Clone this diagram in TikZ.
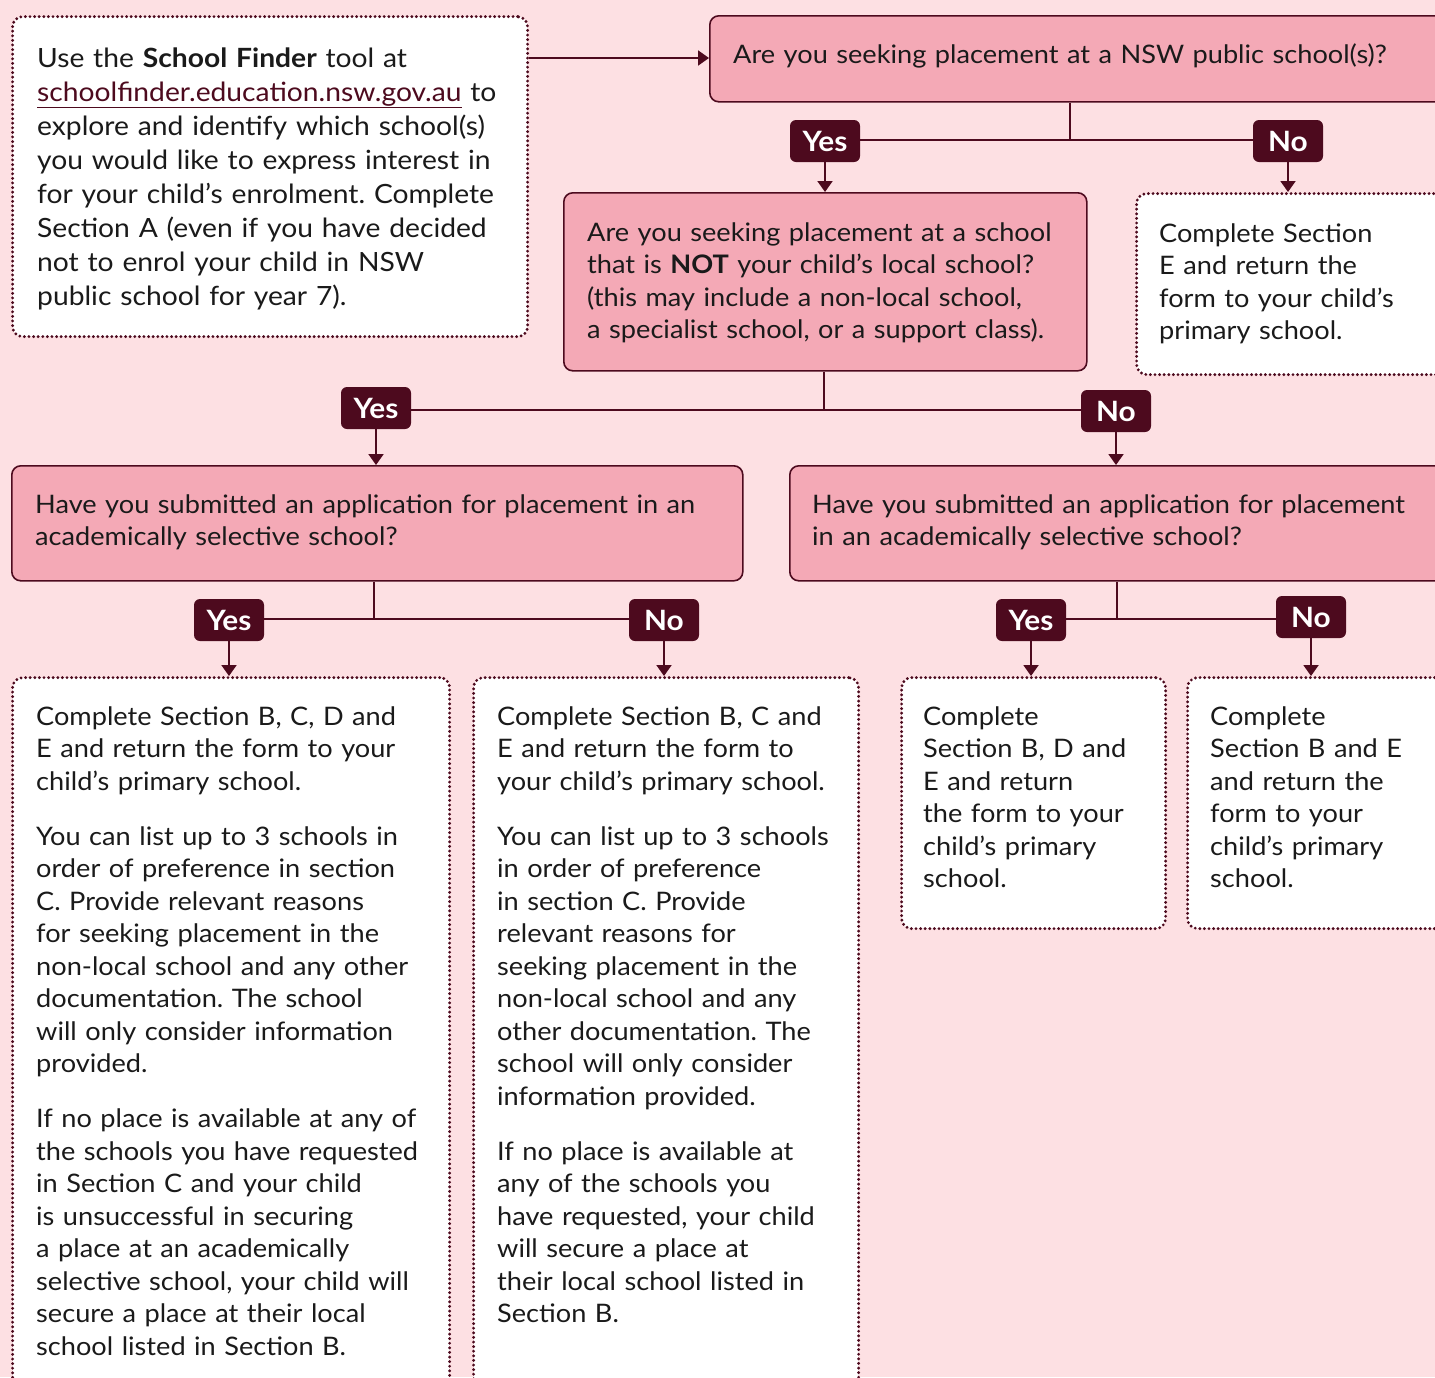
\documentclass[tikz,border=0pt]{standalone}
\usepackage{fontspec}
\setmainfont{Lato}[FakeStretch=1.065]
\usetikzlibrary{arrows.meta}
\definecolor{bg}{HTML}{FDE0E3}
\definecolor{pinkq}{HTML}{F4A9B6}
\definecolor{maroon}{HTML}{4D0A1E}
\definecolor{ink}{HTML}{1A1A1A}
\frenchspacing
\begin{document}
\begin{tikzpicture}[x=1pt,y=-1pt,
  qbox/.style={draw=maroon, line width=1.6pt, fill=pinkq, rounded corners=9pt, anchor=north west, inner sep=0pt},
  wbox/.style={draw=maroon, line width=3.2pt, fill=white, rounded corners=10pt, dash pattern=on 0pt off 4.6pt, line cap=round, anchor=north west, inner sep=0pt},
  lbl/.style={fill=maroon, text=white, rounded corners=6pt, minimum width=70pt, minimum height=42pt, inner sep=0pt, font=\fontsize{28}{30}\selectfont\bfseries},
  txt/.style={anchor=base west, inner sep=0pt, text width=#1, align=left, text=ink, font=\fontsize{25.5}{32.5}\selectfont},
  conn/.style={draw=maroon, line width=2pt},
  arr/.style={conn, -{Triangle[width=15pt,length=11pt]}}
]
\path[use as bounding box, fill=bg] (0,0) rectangle (1435,1377);
\clip (0,0) rectangle (1435,1377);

% boxes
\node[wbox, minimum width=515pt, minimum height=320pt] (intro) at (11,15) {};
\node[qbox, minimum width=760pt, minimum height=86pt] (q1) at (709,15) {};
\node[qbox, minimum width=523pt, minimum height=178pt] (q2) at (563,192) {};
\node[wbox, minimum width=330pt, minimum height=181pt] (ebox) at (1135,192) {};
\node[qbox, minimum width=731pt, minimum height=115pt] (q3l) at (11,465) {};
\node[qbox, minimum width=680pt, minimum height=115pt] (q3r) at (789,465) {};
\node[wbox, minimum width=437pt, minimum height=740pt] (b1) at (11,676) {};
\node[wbox, minimum width=385pt, minimum height=740pt] (b2) at (472,676) {};
\node[wbox, minimum width=264pt, minimum height=251pt] (b3) at (900,676) {};
\node[wbox, minimum width=280pt, minimum height=251pt] (b4) at (1186,676) {};

% texts
\node[txt=500pt, font=\fontsize{26.5}{34}\selectfont] (introtext) at (37,67) {Use the \textbf{School Finder} tool at\\
\textcolor{maroon}{\underline{schoolfinder.education.nsw.gov.au}} to\\
explore and identify which school(s)\\
you would like to express interest in\\
for your child’s enrolment. Complete\\
Section A (even if you have decided\\
not to enrol your child in NSW\\
public school for year 7).};
\node[txt=720pt] (q1text) at (733,63) {Are you seeking placement at a NSW public school(s)?};
\node[txt=500pt] (q2text) at (587,241) {Are you seeking placement at a school\\
that is \textbf{NOT} your child’s local school?\\
(this may include a non-local school,\\
a specialist school, or a support class).};
\node[txt=300pt] (etext) at (1159,242) {Complete Section\\
E and return the\\
form to your child’s\\
primary school.};
\node[txt=720pt] (q3ltext) at (35,513) {Have you submitted an application for placement in an\\
academically selective school?};
\node[txt=640pt] (q3rtext) at (812,513) {Have you submitted an application for placement\\
in an academically selective school?};
\node[txt=420pt] (b1text) at (36,725) {Complete Section B, C, D and\\
E and return the form to your\\
child’s primary school.\\[22.5pt]
You can list up to 3 schools in\\
order of preference in section\\
C. Provide relevant reasons\\
for seeking placement in the\\
non-local school and any other\\
documentation. The school\\
will only consider information\\
provided.\\[22.5pt]
If no place is available at any of\\
the schools you have requested\\
in Section C and your child\\
is unsuccessful in securing\\
a place at an academically\\
selective school, your child will\\
secure a place at their local\\
school listed in Section B.};
\node[txt=370pt] (b2text) at (497,725) {Complete Section B, C and\\
E and return the form to\\
your child’s primary school.\\[22.5pt]
You can list up to 3 schools\\
in order of preference\\
in section C. Provide\\
relevant reasons for\\
seeking placement in the\\
non-local school and any\\
other documentation. The\\
school will only consider\\
information provided.\\[22.5pt]
If no place is available at\\
any of the schools you\\
have requested, your child\\
will secure a place at\\
their local school listed in\\
Section B.};
\node[txt=240pt] (b3text) at (923,725) {Complete\\
Section B, D and\\
E and return\\
the form to your\\
child’s primary\\
school.};
\node[txt=240pt] (b4text) at (1210,725) {Complete\\
Section B and E\\
and return the\\
form to your\\
child’s primary\\
school.};

% labels
\node[lbl] (y1) at (825,141) {Yes};
\node[lbl] (n1) at (1288,141) {No};
\node[lbl] (y2) at (376,408) {Yes};
\node[lbl] (n2) at (1116,411) {No};
\node[lbl] (y3) at (229,620) {Yes};
\node[lbl] (n3) at (664,620) {No};
\node[lbl] (y4) at (1031,620) {Yes};
\node[lbl] (n4) at (1311,617) {No};

% junctions
\coordinate (j1) at (1070,140);
\coordinate (j2) at (824,410);
\coordinate (j3) at (374,619);
\coordinate (j4) at (1117,619);
\coordinate (ia) at (600,58);

% connectors
\draw[arr] (ia -| intro.east) -- (ia -| q1.west);
\draw[conn] (j1 |- q1.south) -- (j1);
\draw[conn] (y1.east |- j1) -- (n1.west |- j1);
\draw[arr] (y1.south) -- (y1 |- q2.north);
\draw[arr] (n1.south) -- (n1 |- ebox.north);
\draw[conn] (j2 |- q2.south) -- (j2);
\draw[conn] (y2.east |- j2) -- (n2.west |- j2);
\draw[arr] (y2.south) -- (y2 |- q3l.north);
\draw[arr] (n2.south) -- (n2 |- q3r.north);
\draw[conn] (j3 |- q3l.south) -- (j3);
\draw[conn] (y3.east |- j3) -- (n3.west |- j3);
\draw[arr] (y3.south) -- (y3 |- b1.north);
\draw[arr] (n3.south) -- (n3 |- b2.north);
\draw[conn] (j4 |- q3r.south) -- (j4);
\draw[conn] (y4.east |- j4) -- (n4.west |- j4);
\draw[arr] (y4.south) -- (y4 |- b3.north);
\draw[arr] (n4.south) -- (n4 |- b4.north);
\end{tikzpicture}
\end{document}
